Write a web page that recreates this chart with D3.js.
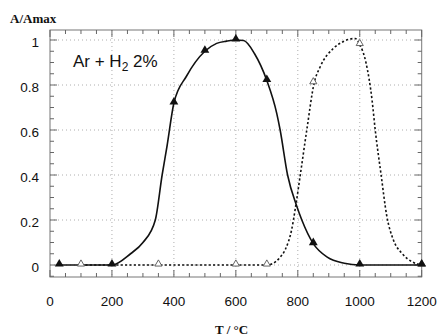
<!DOCTYPE html>
<meta charset="utf-8">
<style>
body { margin: 0; background: #fff; }
.tick-label { font: 13.5px "Liberation Sans", Arial, sans-serif; fill: #111; }
.axis-title { font: bold 13px "Liberation Serif", "Times New Roman", serif; fill: #111; }
.note { font: 17px "Liberation Sans", Arial, sans-serif; fill: #111; }
</style>
<body>
<script src="https://cdn.jsdelivr.net/npm/d3@7"></script>
<script>

width = 437;
height = 336;

// fitted curves
solidCurve = [[30,0],[200,0],[260,0.05],[300,0.1],[340,0.2],[362,0.4],[378,0.53],[400,0.72],[441,0.84],[500,0.95],[538,0.985],[570,0.995],[600,1.0],[625,0.998],[660,0.94],[700,0.82],[732,0.674],[743,0.6],[767,0.4],[797,0.26],[813,0.2],[850,0.095],[895,0.035],[950,0.008],[1000,0],[1200,0]];
dottedCurve = [[100,0],[350,0],[600,0],[700,0],[720,0.007],[740,0.03],[760,0.07],[780,0.156],[793,0.26],[808,0.4],[829,0.6],[853,0.81],[872,0.88],[915,0.963],[950,0.995],[985,1.007],[1000,0.98],[1020,0.9],[1040,0.73],[1050,0.6],[1069,0.4],[1087,0.22],[1109,0.11],[1136,0.052],[1168,0.015],[1200,0]];

// measured points
solidPoints = [[30,0],[200,0],[400,0.72],[500,0.95],[600,1.0],[700,0.82],[850,0.095],[1000,0],[1200,0]];
openPoints = [[100,0],[350,0],[600,0],[700,0],[850,0.81],[1000,0.98],[1200,0]];

xTicks = [0, 200, 400, 600, 800, 1000, 1200];
yTicks = [0, 0.2, 0.4, 0.6, 0.8, 1];
yTickLabels = ["0", "0.2", "0.4", "0.6", "0.8", "1"];

x = d3.scaleLinear([0, 1200], [50, 421.7]);
y = d3.scaleLinear([0, 1], [265, 40]);

frameTop = 30, frameBottom = 277;

var svg = d3.select("body").append("svg")
    .attr("width", width)
    .attr("height", height);

// grid
svg.append("g").selectAll("line")
  .data(xTicks.filter(d => d > 0 && d < 1200))
  .join("line")
    .attr("x1", d => x(d)).attr("x2", d => x(d))
    .attr("y1", frameTop).attr("y2", frameBottom)
    .attr("stroke", "#999").attr("stroke-width", 0.8)
    .attr("stroke-dasharray", "1,3");

svg.append("g").selectAll("line")
  .data(yTicks)
  .join("line")
    .attr("x1", x(0)).attr("x2", x(1200))
    .attr("y1", d => y(d)).attr("y2", d => y(d))
    .attr("stroke", "#999").attr("stroke-width", 0.8)
    .attr("stroke-dasharray", "1,3");

// frame
svg.append("rect")
    .attr("x", x(0)).attr("y", frameTop)
    .attr("width", x(1200) - x(0)).attr("height", frameBottom - frameTop)
    .attr("fill", "none").attr("stroke", "#777").attr("stroke-width", 1);

// inward ticks on all four sides
xMinor = d3.range(0, 1201, 50);
yMinor = d3.range(-0.05, 1.04, 0.05);

ticks = svg.append("g").attr("stroke", "#666").attr("stroke-width", 1);
xMinor.forEach(v => {
  let len = v % 200 === 0 ? 7 : 4;
  ticks.append("line").attr("x1", x(v)).attr("x2", x(v)).attr("y1", frameBottom).attr("y2", frameBottom - len);
  ticks.append("line").attr("x1", x(v)).attr("x2", x(v)).attr("y1", frameTop).attr("y2", frameTop + len);
});
yMinor.forEach(v => {
  let len = Math.abs(Math.round(v * 100) % 20) === 0 ? 7 : 4;
  ticks.append("line").attr("x1", x(0)).attr("x2", x(0) + len).attr("y1", y(v)).attr("y2", y(v));
  ticks.append("line").attr("x1", x(1200)).attr("x2", x(1200) - len).attr("y1", y(v)).attr("y2", y(v));
});

// tick labels
svg.append("g").selectAll("text")
  .data(xTicks)
  .join("text")
    .attr("class", "tick-label")
    .attr("x", d => x(d)).attr("y", 306)
    .attr("text-anchor", "middle")
    .text(d => d);

svg.append("g").selectAll("text")
  .data(yTicks)
  .join("text")
    .attr("class", "tick-label")
    .attr("x", 39).attr("y", d => y(d) + 7)
    .attr("text-anchor", "end")
    .text((d, i) => yTickLabels[i]);

// axis titles
svg.append("text").attr("class", "axis-title").attr("x", 10).attr("y", 23).text("A/Amax");
svg.append("text").attr("class", "axis-title").attr("x", 215).attr("y", 334).text("T / °C");

// annotation
note = svg.append("text").attr("class", "note").attr("x", 73).attr("y", 67);
note.append("tspan").text("Ar + H");
note.append("tspan").attr("font-size", 12).attr("dy", 4).text("2");
note.append("tspan").attr("dy", -4).text(" 2%");

// curves
line = d3.line()
    .x(d => x(d[0]))
    .y(d => y(d[1]))
    .curve(d3.curveMonotoneX);

svg.append("path")
    .datum(dottedCurve)
    .attr("d", line)
    .attr("fill", "none").attr("stroke", "#111").attr("stroke-width", 1.6)
    .attr("stroke-dasharray", "2.2,2.2");

svg.append("path")
    .datum(solidCurve)
    .attr("d", line)
    .attr("fill", "none").attr("stroke", "#111").attr("stroke-width", 1.6);

// markers
tri = d3.symbol().type(d3.symbolTriangle);

svg.append("g").selectAll("path")
  .data(openPoints)
  .join("path")
    .attr("d", tri.size(22))
    .attr("transform", d => `translate(${x(d[0])},${y(d[1]) - 1})`)
    .attr("fill", "#fff").attr("stroke", "#555").attr("stroke-width", 0.9);

svg.append("g").selectAll("path")
  .data(solidPoints)
  .join("path")
    .attr("d", tri.size(34))
    .attr("transform", d => `translate(${x(d[0])},${y(d[1]) - 1})`)
    .attr("fill", "#111");

</script>
